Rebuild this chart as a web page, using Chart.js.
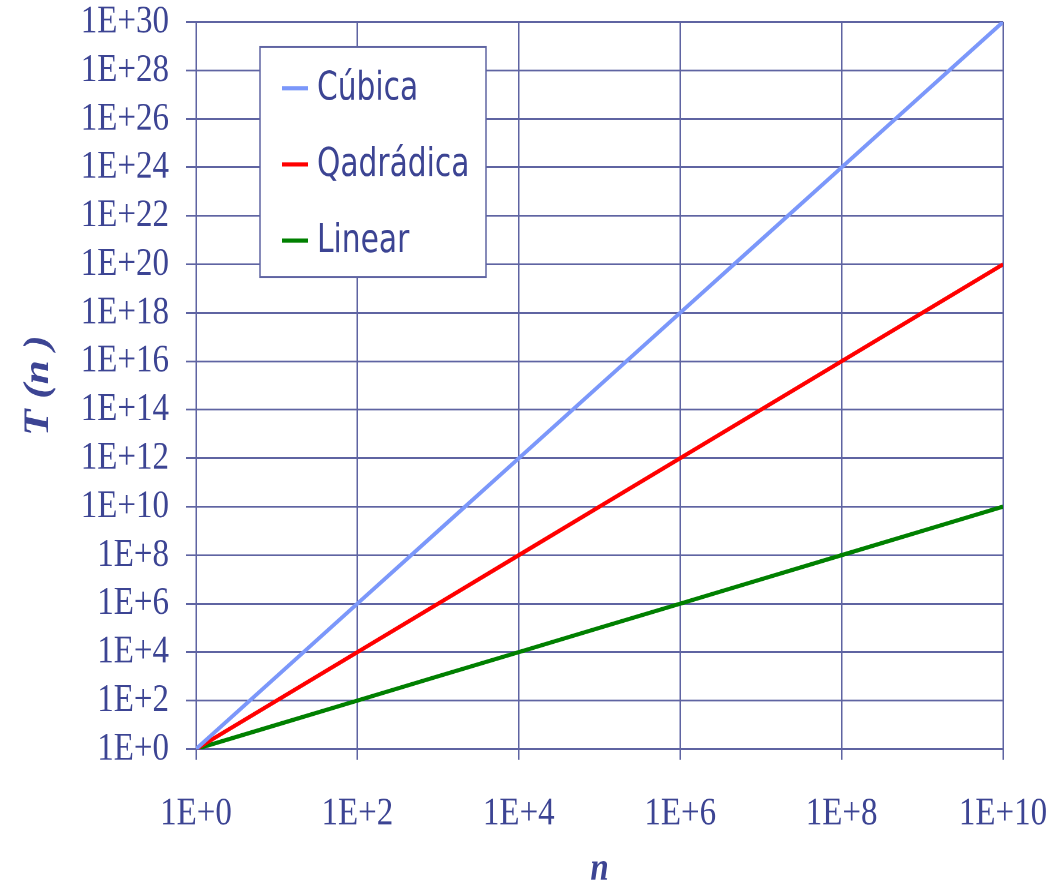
<!DOCTYPE html>
<html>
<head>
<meta charset="utf-8">
<script src="https://cdn.jsdelivr.net/npm/chart.js@4/dist/chart.umd.min.js"></script>
<style>
  html, body { margin: 0; padding: 0; background: #ffffff; overflow: hidden; }
</style>
</head>
<body>
<!-- drawn on a 1063x740 surface, shown stretched vertically -->
<canvas id="chart" width="1063" height="740" style="width:1063px;height:888px;display:block;"></canvas>
<script>
// problem sizes n and running times T(n)
const nValues        = [1, 1e1, 1e2, 1e3, 1e4, 1e5, 1e6, 1e7, 1e8, 1e9, 1e10];
const cubicValues    = [1, 1e3, 1e6, 1e9, 1e12, 1e15, 1e18, 1e21, 1e24, 1e27, 1e30];
const quadraticValues= [1, 1e2, 1e4, 1e6, 1e8, 1e10, 1e12, 1e14, 1e16, 1e18, 1e20];
const linearValues   = [1, 1e1, 1e2, 1e3, 1e4, 1e5, 1e6, 1e7, 1e8, 1e9, 1e10];
const seriesNames    = ['Cúbica', 'Qadrádica', 'Linear'];
const seriesColors   = ['#7B97FA', '#FF0000', '#008000'];

// axis ticks
const xTickValues = [1, 1e2, 1e4, 1e6, 1e8, 1e10];
const xTickLabels = ['1E+0', '1E+2', '1E+4', '1E+6', '1E+8', '1E+10'];
const yTickValues = [1, 1e2, 1e4, 1e6, 1e8, 1e10, 1e12, 1e14, 1e16, 1e18, 1e20, 1e22, 1e24, 1e26, 1e28, 1e30];
const yTickLabels = ['1E+0', '1E+2', '1E+4', '1E+6', '1E+8', '1E+10', '1E+12', '1E+14', '1E+16', '1E+18',
                     '1E+20', '1E+22', '1E+24', '1E+26', '1E+28', '1E+30'];

const textColor = '#3C4493';
const gridColor = '#5F64A2';
const serif = "'Liberation Serif', 'Times New Roman', serif";

const toPoints = ys => nValues.map((n, i) => ({ x: n, y: ys[i] }));

// boxed legend drawn inside the plot area
const legendBox = {
  id: 'legendBox',
  afterDatasetsDraw(chart) {
    const ctx = chart.ctx;
    const x0 = 260, y0 = 39.2, w = 226, h = 191.6;
    ctx.save();
    ctx.fillStyle = '#ffffff';
    ctx.fillRect(x0, y0, w, h);
    ctx.strokeStyle = gridColor;
    ctx.lineWidth = 1.5;
    ctx.strokeRect(x0, y0, w, h);
    ctx.font = "33px 'DejaVu Sans Condensed', 'DejaVu Sans', sans-serif";
    ctx.textBaseline = 'middle';
    ctx.textAlign = 'left';
    chart.data.datasets.forEach((ds, i) => {
      const y = 73.5 + i * 63.5;
      ctx.strokeStyle = ds.borderColor;
      ctx.lineWidth = 3.5;
      ctx.beginPath();
      ctx.moveTo(282, y);
      ctx.lineTo(308, y);
      ctx.stroke();
      ctx.fillStyle = textColor;
      ctx.fillText(ds.label, 317, y + 1);
    });
    ctx.restore();
  }
};

new Chart(document.getElementById('chart'), {
  type: 'line',
  data: {
    datasets: [
      { label: seriesNames[0], data: toPoints(cubicValues),     borderColor: seriesColors[0] },
      { label: seriesNames[1], data: toPoints(quadraticValues), borderColor: seriesColors[1] },
      { label: seriesNames[2], data: toPoints(linearValues),    borderColor: seriesColors[2] }
    ]
  },
  options: {
    responsive: false,
    animation: false,
    devicePixelRatio: 2,
    layout: { padding: { left: 0, right: 60, top: 18.3, bottom: 0 } },
    elements: {
      line: { borderWidth: 3.5, tension: 0, fill: false },
      point: { radius: 0, hoverRadius: 0 }
    },
    plugins: {
      legend: { display: false },
      tooltip: { enabled: false }
    },
    scales: {
      x: {
        type: 'logarithmic',
        min: 1,
        max: 1e10,
        afterBuildTicks: s => { s.ticks = xTickValues.map(v => ({ value: v })); },
        afterFit: s => { s.height = 115.8; s.paddingLeft = 0; s.paddingRight = 0; },
        ticks: {
          autoSkip: false,
          maxRotation: 0,
          padding: 28.5,
          color: textColor,
          font: { family: serif, size: 33, lineHeight: 1 },
          callback: v => xTickLabels[xTickValues.indexOf(v)]
        },
        grid: { color: gridColor, lineWidth: 1.5, tickLength: 9 },
        border: { color: gridColor, width: 1.5 },
        title: {
          display: true,
          text: 'n',
          color: textColor,
          font: { family: serif, size: 33, style: 'italic', weight: 'bold', lineHeight: 1 },
          padding: { top: 0, bottom: -1 }
        }
      },
      y: {
        type: 'logarithmic',
        min: 1,
        max: 1e30,
        afterBuildTicks: s => { s.ticks = yTickValues.map(v => ({ value: v })); },
        afterFit: s => { s.width = 196; s.paddingTop = 0; s.paddingBottom = 0; },
        ticks: {
          autoSkip: false,
          padding: 17,
          color: textColor,
          font: { family: serif, size: 33, lineHeight: 1 },
          callback: v => yTickLabels[yTickValues.indexOf(v)]
        },
        grid: { color: gridColor, lineWidth: 1.5, tickLength: 10 },
        border: { color: gridColor, width: 1.5 },
        title: {
          display: true,
          text: 'T (n )',
          color: textColor,
          font: { family: serif, size: 36, style: 'italic', weight: 'bold', lineHeight: 1.2 },
          padding: { top: 17, bottom: 0 }
        }
      }
    }
  },
  plugins: [legendBox]
});
</script>
</body>
</html>
